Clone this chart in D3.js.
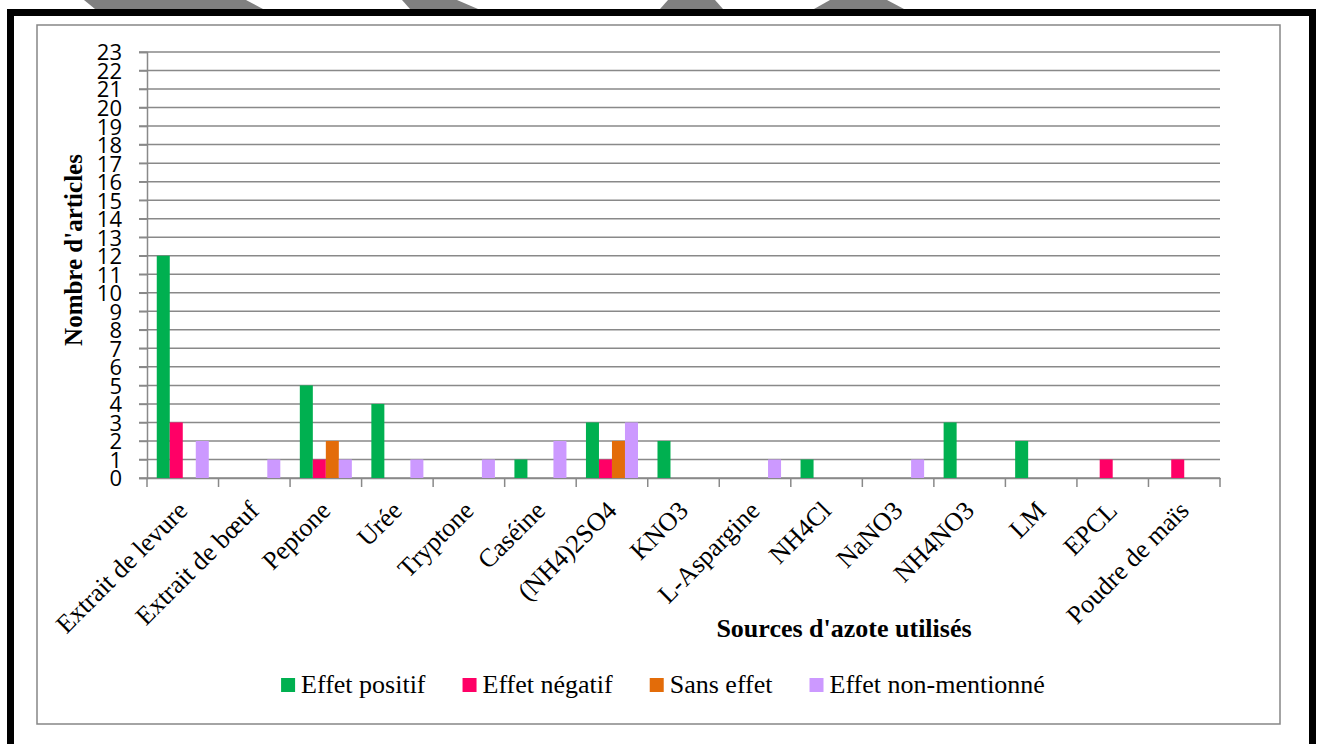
<!DOCTYPE html>
<html>
<head>
<meta charset="utf-8">
<script src="https://cdn.jsdelivr.net/npm/d3@7"></script>
<style>
  html, body { margin: 0; padding: 0; background: #ffffff; }
  svg { display: block; }
</style>
</head>
<body>
<script>
// Sources d'azote et nombre d'articles par type d'effet
const categories = ["Extrait de levure", "Extrait de bœuf", "Peptone", "Urée", "Tryptone", "Caséine",
  "(NH4)2SO4", "KNO3", "L-Aspargine", "NH4Cl", "NaNO3", "NH4NO3", "LM", "EPCL", "Poudre de maïs"];
const seriesNames = ["Effet positif", "Effet négatif", "Sans effet", "Effet non-mentionné"];
const effetPositif   = [12, 0, 5, 4, 0, 1, 3, 2, 0, 1, 0, 3, 2, 0, 0];
const effetNegatif   = [3, 0, 1, 0, 0, 0, 1, 0, 0, 0, 0, 0, 0, 1, 1];
const sansEffet      = [0, 0, 2, 0, 0, 0, 2, 0, 0, 0, 0, 0, 0, 0, 0];
const effetNonMentionne = [2, 1, 1, 1, 1, 2, 3, 0, 1, 0, 1, 0, 0, 0, 0];
const yTickValues = d3.range(0, 24);
const seriesColors = ["#00b050", "#ff0066", "#e36c09", "#cc99ff"];

const SERIF = "'Liberation Serif', 'Times New Roman', serif";
const SANS = "'Open Sans', sans-serif";

const W = 1319, H = 744;
const svg = d3.select("body").append("svg").attr("width", W).attr("height", H);

// decorative grey bands at the top edge
const bands = [
  [[84, 0], [246, 0], [263, 9], [95, 9]],
  [[402, 0], [457, 0], [478, 9], [410, 9]],
  [[668, 0], [715, 0], [723, 9], [660, 9]],
  [[830, 0], [887, 0], [904, 9], [814, 9]]
];
svg.selectAll("polygon.band").data(bands).join("polygon")
  .attr("class", "band")
  .attr("points", d => d.map(p => p.join(",")).join(" "))
  .attr("fill", "#808080");

// thick black page border (open at the bottom)
svg.append("path")
  .attr("d", "M10.5,744 V12.5 H1312.5 V744")
  .attr("fill", "none").attr("stroke", "#000").attr("stroke-width", 7);

// chart area frame
svg.append("rect")
  .attr("x", 37).attr("y", 25).attr("width", 1243).attr("height", 699)
  .attr("fill", "#fff").attr("stroke", "#868686").attr("stroke-width", 1.5);

const plotL = 147, plotR = 1220, plotT = 52, plotB = 478;

const x = d3.scaleBand().domain(categories).range([plotL, plotR]).padding(0);
const xs = d3.scaleBand().domain(seriesNames).range([0, x.bandwidth()])
  .paddingInner(0).paddingOuter(0.75);
const y = d3.scaleLinear().domain([0, 23]).range([plotB, plotT]);

// horizontal gridlines
svg.append("g").selectAll("line").data(yTickValues).join("line")
  .attr("x1", plotL - 8).attr("x2", plotR)
  .attr("y1", d => y(d)).attr("y2", d => y(d))
  .attr("stroke", "#898989").attr("stroke-width", 1.5);

// y axis
const yAxis = d3.axisLeft(y).tickValues(yTickValues).tickSize(8).tickPadding(17);
const gy = svg.append("g").attr("transform", `translate(${plotL},0)`).call(yAxis);
gy.attr("font-family", SANS).attr("font-size", 22);
gy.select(".domain").attr("stroke", "#898989").attr("stroke-width", 1.5);
gy.selectAll(".tick line").attr("stroke", "#898989").attr("stroke-width", 1.5);
gy.selectAll(".tick text")
  .style("font-family", SANS).style("font-size", "22px")
  .attr("fill", "#000").attr("dy", "0.36em");

// x axis
const xAxis = d3.axisBottom(x).tickSize(0).tickFormat("");
const gx = svg.append("g").attr("transform", `translate(0,${plotB})`).call(xAxis);
gx.select(".domain").attr("stroke", "#898989").attr("stroke-width", 1.5);
gx.selectAll(".tick").remove();
const boundaries = categories.map(c => x(c)).concat([plotR]);
svg.append("g").selectAll("line").data(boundaries).join("line")
  .attr("x1", d => d).attr("x2", d => d)
  .attr("y1", plotB).attr("y2", plotB + 9)
  .attr("stroke", "#898989").attr("stroke-width", 1.5);

// category labels, rotated
svg.append("g").selectAll("text").data(categories).join("text")
  .attr("transform", d => `translate(${x(d) + x.bandwidth() / 2 - 6},${plotB + 22}) rotate(-45)`)
  .attr("text-anchor", "end").attr("dy", "0.66em")
  .style("font-family", SERIF).style("font-size", "26px").attr("fill", "#000")
  .text(d => d);

// bars
const seriesData = [effetPositif, effetNegatif, sansEffet, effetNonMentionne];
const groups = svg.append("g").selectAll("g").data(categories).join("g")
  .attr("transform", d => `translate(${x(d)},0)`);
groups.selectAll("rect")
  .data((c, i) => seriesNames.map((s, k) => ({ s, k, v: seriesData[k][i] })))
  .join("rect")
  .attr("x", d => xs(d.s))
  .attr("width", xs.bandwidth())
  .attr("y", d => y(d.v))
  .attr("height", d => y(0) - y(d.v))
  .attr("fill", d => seriesColors[d.k]);

// axis titles
svg.append("text")
  .attr("transform", `translate(82,250) rotate(-90)`)
  .attr("text-anchor", "middle")
  .style("font-family", SERIF).style("font-weight", "bold").style("font-size", "25px")
  .text("Nombre d'articles");

svg.append("text")
  .attr("x", 844).attr("y", 637)
  .attr("text-anchor", "middle")
  .style("font-family", SERIF).style("font-weight", "bold").style("font-size", "26px")
  .text("Sources d'azote utilisés");

// legend
const legend = svg.append("g");
let cx = 0;
seriesNames.forEach((name, k) => {
  const item = legend.append("g").attr("transform", `translate(${cx},0)`);
  item.append("rect").attr("x", 0).attr("y", -15).attr("width", 14).attr("height", 14)
    .attr("fill", seriesColors[k]);
  const t = item.append("text").attr("x", 20).attr("y", 0)
    .style("font-family", SERIF).style("font-size", "26px")
    .attr("fill", "#000").text(name);
  cx += 20 + t.node().getComputedTextLength() + 37;
});
const legendW = cx - 37;
legend.attr("transform", `translate(${663 - legendW / 2},693)`);
</script>
</body>
</html>
